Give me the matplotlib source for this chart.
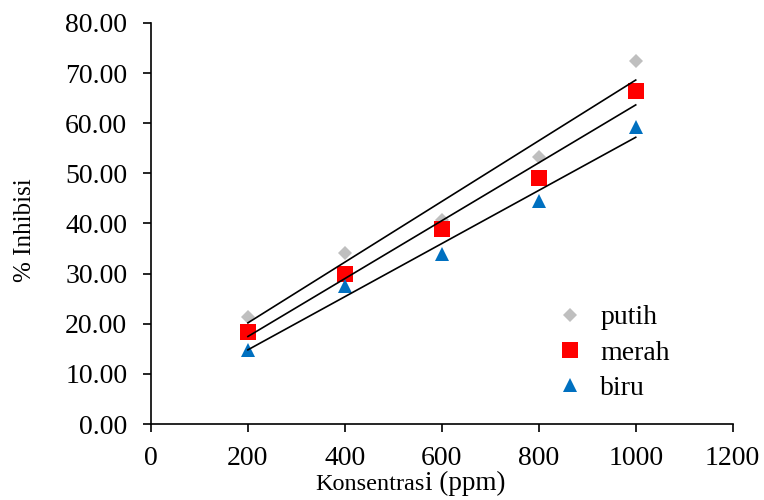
import numpy as np
import matplotlib.pyplot as plt

plt.rcParams['font.family'] = ['Liberation Serif', 'DejaVu Serif']

konsentrasi = np.array([200, 400, 600, 800, 1000])
putih = np.array([21.4, 34.2, 40.7, 53.3, 72.4])
merah = np.array([18.3, 30.0, 38.9, 49.1, 66.5])
biru = np.array([14.8, 27.5, 33.9, 44.5, 59.3])

fig = plt.figure(figsize=(7.64, 5.0), dpi=100)
ax = fig.add_axes([0.1976, 0.152, 0.7614, 0.802])

series = [
    ('putih', putih, 'D', '#BFBFBF', 7.5),
    ('merah', merah, 's', '#FF0000', 11),
    ('biru', biru, '^', '#0070C0', 10),
]

for name, y, mk, col, ms in series:
    ax.plot(konsentrasi, y, linestyle='none', marker=mk, color=col,
            markersize=ms, markeredgewidth=0, label=name, zorder=2)
    # linear trendline
    fit = np.polyfit(konsentrasi, y, 1)
    ax.plot(konsentrasi, fit[0] * konsentrasi + fit[1], color='black',
            linewidth=1.2, zorder=3)

ax.set_xlim(0, 1200)
ax.set_ylim(0, 80)
ax.set_xticks(np.arange(0, 1201, 200))
ax.set_yticks(np.arange(0, 81, 10))
ax.set_yticklabels(['%.2f' % v for v in np.arange(0, 81, 10)])
ax.tick_params(labelsize=20, direction='out', length=6, width=1.2)
ax.tick_params(axis='x', pad=10)
ax.tick_params(axis='y', pad=11)
ax.spines['top'].set_visible(False)
ax.spines['right'].set_visible(False)
ax.spines['left'].set_linewidth(1.2)
ax.spines['bottom'].set_linewidth(1.2)

ax.legend(loc='upper left', bbox_to_anchor=(0.691, 0.297), frameon=False,
          fontsize=20, handletextpad=0.5, labelspacing=0.35, handlelength=1.2,
          borderpad=0, borderaxespad=0)

fig.text(0.033, 0.54, '% Inhibisi', rotation=90, fontsize=18,
         ha='center', va='center')
fig.text(0.556, 0.02, 'Konsentras', fontsize=17.5, ha='right', va='baseline')
fig.text(0.556, 0.02, 'i (ppm)', fontsize=19.5, ha='left', va='baseline')

fig.savefig('out.png', dpi=100)
